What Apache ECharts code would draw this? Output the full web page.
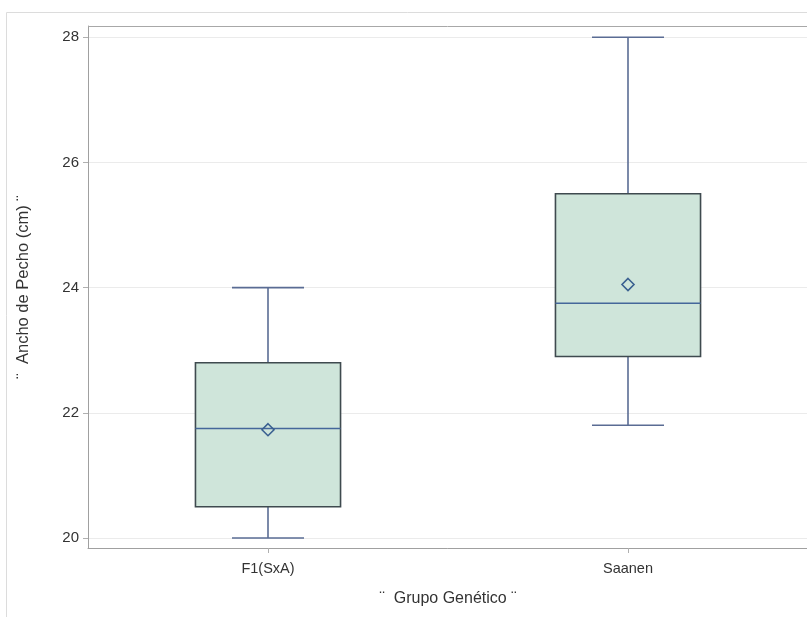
<!DOCTYPE html>
<html>
<head>
<meta charset="utf-8">
<script src="https://cdn.jsdelivr.net/npm/echarts@6/dist/echarts.min.js"></script>
<style>html,body{margin:0;padding:0;background:#fff;}#c{width:807px;height:617px;}</style>
</head>
<body>
<div id="c"></div>
<script>
var categories = ['F1(SxA)', 'Saanen'];
var mins    = [20.0, 21.8];
var q1s     = [20.5, 22.9];
var medians = [21.75, 23.75];
var q3s     = [22.8, 25.5];
var maxs    = [24.0, 28.0];
var means   = [21.73, 24.05];
var yTicks  = [20, 22, 24, 26, 28];

var data = categories.map(function (c, i) {
  return [i, mins[i], q1s[i], medians[i], q3s[i], maxs[i], means[i]];
});

var chart = echarts.init(document.getElementById('c'));
var FONT = 'Liberation Sans, Arial, sans-serif';

function renderItem(params, api) {
  var x = api.value(0);
  var pMin = api.coord([x, api.value(1)]);
  var pQ1 = api.coord([x, api.value(2)]);
  var pMed = api.coord([x, api.value(3)]);
  var pQ3 = api.coord([x, api.value(4)]);
  var pMax = api.coord([x, api.value(5)]);
  var pMean = api.coord([x, api.value(6)]);
  var band = api.size([1, 0])[0];
  var bw = band * 0.403 / 2;
  var cw = band * 0.2 / 2;
  var cx = pMin[0];
  var wStyle = { stroke: '#5a6c94', lineWidth: 1.6 };
  var d = 6;
  return {
    type: 'group',
    children: [
      { type: 'line', shape: { x1: cx, y1: pMax[1], x2: cx, y2: pQ3[1] }, style: wStyle },
      { type: 'line', shape: { x1: cx, y1: pQ1[1], x2: cx, y2: pMin[1] }, style: wStyle },
      { type: 'line', shape: { x1: cx - cw, y1: pMax[1], x2: cx + cw, y2: pMax[1] }, style: wStyle },
      { type: 'line', shape: { x1: cx - cw, y1: pMin[1], x2: cx + cw, y2: pMin[1] }, style: wStyle },
      { type: 'rect', shape: { x: cx - bw, y: pQ3[1], width: 2 * bw, height: pQ1[1] - pQ3[1] },
        style: { fill: '#cfe5da', stroke: '#3f4a4f', lineWidth: 1.6 } },
      { type: 'line', shape: { x1: cx - bw, y1: pMed[1], x2: cx + bw, y2: pMed[1] },
        style: { stroke: '#45679a', lineWidth: 1.6 } },
      { type: 'polygon', shape: { points: [[cx, pMean[1] - d], [cx + d, pMean[1]], [cx, pMean[1] + d], [cx - d, pMean[1]]] },
        style: { fill: 'rgba(0,0,0,0)', stroke: '#3a6090', lineWidth: 1.6 } }
    ]
  };
}

chart.setOption({
  animation: false,
  backgroundColor: '#fff',
  graphic: [{
    type: 'rect', shape: { x: 6.5, y: 12.5, width: 820, height: 700 },
    style: { fill: 'none', stroke: '#dcdcdc', lineWidth: 1 }, silent: true, z: -1
  }, {
    type: 'line', shape: { x1: 88, y1: 26.5, x2: 807, y2: 26.5 },
    style: { stroke: '#a8a8a8', lineWidth: 1 }, silent: true, z: 5
  }],
  grid: { left: 88, top: 26, right: -1, bottom: 69, show: false, outerBoundsMode: 'none', containLabel: false },
  xAxis: {
    type: 'category',
    data: categories,
    boundaryGap: true,
    name: '¨  Grupo Genético ¨',
    nameLocation: 'middle',
    nameGap: 43,
    nameTextStyle: { fontFamily: FONT, fontSize: 16, color: '#333' },
    axisLine: { show: true, lineStyle: { color: '#a0a0a0' } },
    axisTick: { show: true, alignWithLabel: true, length: 5, lineStyle: { color: '#b0b0b0' } },
    axisLabel: { fontFamily: FONT, fontSize: 14.5, color: '#333', margin: 13 },
    splitLine: { show: false }
  },
  yAxis: {
    type: 'value',
    min: 19.84,
    max: 28.18,
    name: '¨  Ancho de Pecho (cm) ¨',
    nameLocation: 'middle',
    nameGap: 56,
    nameTextStyle: { fontFamily: FONT, fontSize: 16.5, color: '#333' },
    axisLine: { show: true, lineStyle: { color: '#a0a0a0' } },
    axisTick: { show: true, length: 5, customValues: yTicks, lineStyle: { color: '#b0b0b0' } },
    axisLabel: { fontFamily: FONT, fontSize: 15, color: '#333', margin: 9, customValues: yTicks },
    splitLine: { show: true, lineStyle: { color: '#ebebeb', width: 1 } }
  },
  series: [{
    type: 'custom',
    renderItem: renderItem,
    data: data,
    encode: { x: 0, y: [1, 2, 3, 4, 5, 6] },
    clip: false
  }]
});
</script>
</body>
</html>
